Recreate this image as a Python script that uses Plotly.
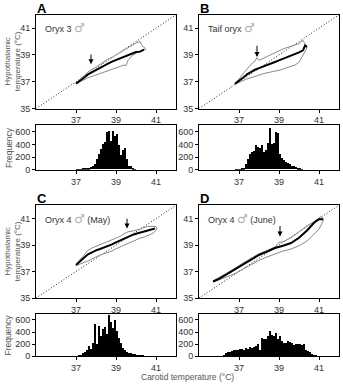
import plotly.graph_objects as go

# ---------------- data ----------------
# Panel A (Oryx 3)
a_x_mean = [37.0, 37.2, 37.4, 37.6, 37.8, 38.0, 38.2, 38.4, 38.6, 38.8, 39.0, 39.2, 39.4, 39.6, 39.8, 40.0, 40.2, 40.4]
a_y_mean = [36.85, 37.05, 37.3, 37.55, 37.72, 37.85, 38.0, 38.2, 38.35, 38.5, 38.62, 38.75, 38.88, 39.0, 39.12, 39.22, 39.25, 39.4]
a_x_up = [37.0, 37.2, 37.4, 37.6, 37.8, 38.0, 38.2, 38.4, 38.6, 38.8, 39.0, 39.2, 39.4, 39.6, 39.8, 40.0, 40.2, 40.3, 40.5]
a_y_up = [36.9, 37.15, 37.45, 37.75, 37.9, 38.1, 38.3, 38.5, 38.7, 38.82, 39.0, 39.15, 39.35, 39.55, 39.75, 39.9, 40.0, 39.7, 39.45]
a_x_lo = [37.0, 37.2, 37.4, 37.6, 37.8, 38.0, 38.2, 38.4, 38.6, 38.8, 39.0, 39.2, 39.4, 39.5, 39.6, 39.8, 40.0, 40.2, 40.5]
a_y_lo = [36.85, 37.0, 37.2, 37.3, 37.4, 37.5, 37.62, 37.7, 37.8, 37.9, 38.0, 38.1, 38.25, 38.2, 38.6, 38.95, 39.1, 39.3, 39.45]
a_hist_x = [37.05, 37.15, 37.25, 37.35, 37.45, 37.55, 37.65, 37.75, 37.85, 37.95, 38.05, 38.15, 38.25, 38.35,
            38.45, 38.55, 38.65, 38.75, 38.85, 38.95, 39.05, 39.15, 39.25, 39.35, 39.45, 39.55, 39.65, 39.75, 39.85, 39.95]
a_hist_y = [2, 3, 5, 10, 15, 20, 25, 35, 50, 90, 160, 240, 320, 400,
            440, 590, 600, 450, 600, 520, 560, 380, 220, 300, 340, 160, 60, 50, 15, 5]

# Panel B (Taif oryx)
b_x_mean = [36.8, 37.0, 37.2, 37.4, 37.6, 37.8, 38.0, 38.2, 38.4, 38.6, 38.8, 39.0, 39.2, 39.4, 39.6, 39.8, 40.0, 40.2, 40.3, 40.4]
b_y_mean = [36.85, 37.05, 37.3, 37.55, 37.75, 37.9, 38.02, 38.15, 38.28, 38.38, 38.48, 38.6, 38.72, 38.82, 38.92, 39.05, 39.2, 39.35, 39.7, 39.6]
b_x_up = [36.8, 37.0, 37.2, 37.4, 37.6, 37.8, 37.9, 38.0, 38.2, 38.4, 38.6, 38.8, 39.0, 39.2, 39.4, 39.6, 39.8, 40.0, 40.2, 40.3, 40.4]
b_y_up = [36.9, 37.2, 37.6, 37.95, 38.3, 38.55, 38.8, 38.6, 38.75, 38.9, 39.05, 39.2, 39.35, 39.45, 39.55, 39.65, 39.75, 39.85, 40.1, 39.8, 39.55]
b_x_lo = [36.8, 37.0, 37.2, 37.4, 37.6, 37.8, 38.0, 38.2, 38.4, 38.6, 38.8, 39.0, 39.2, 39.4, 39.6, 39.8, 40.0, 40.2, 40.4]
b_y_lo = [36.8, 36.95, 37.1, 37.22, 37.3, 37.38, 37.5, 37.6, 37.68, 37.72, 37.8, 37.85, 37.95, 38.0, 38.1, 38.25, 38.45, 39.0, 39.55]
b_hist_x = [36.85, 36.95, 37.05, 37.15, 37.25, 37.35, 37.45, 37.55, 37.65, 37.75, 37.85, 37.95, 38.05, 38.15, 38.25, 38.35, 38.45,
            38.55, 38.65, 38.75, 38.85, 38.95, 39.05, 39.15, 39.25, 39.35, 39.45, 39.55, 39.65, 39.75, 39.85, 39.95, 40.05, 40.15]
b_hist_y = [2, 3, 5, 10, 30, 80, 160, 250, 270, 290, 380, 360, 330, 380, 270, 300, 420,
            650, 400, 420, 590, 580, 250, 180, 150, 120, 100, 80, 60, 50, 35, 25, 15, 5]

# Panel C (Oryx 4, May)
c_x_mean = [37.0, 37.2, 37.4, 37.6, 37.8, 38.0, 38.2, 38.4, 38.6, 38.8, 39.0, 39.2, 39.4, 39.6, 39.8, 40.0, 40.2, 40.4, 40.6, 40.8, 40.95]
c_y_mean = [37.5, 37.8, 38.05, 38.3, 38.48, 38.6, 38.7, 38.8, 38.9, 39.05, 39.2, 39.35, 39.5, 39.65, 39.75, 39.85, 39.93, 40.02, 40.1, 40.18, 40.25]
c_x_up = [37.0, 37.2, 37.4, 37.6, 37.8, 38.0, 38.2, 38.4, 38.6, 38.8, 39.0, 39.2, 39.4, 39.6, 39.8, 40.0, 40.2, 40.4, 40.6, 40.8, 41.0, 41.05]
c_y_up = [37.55, 37.9, 38.3, 38.6, 38.78, 38.9, 39.05, 39.2, 39.3, 39.4, 39.5, 39.65, 39.85, 40.0, 40.05, 40.12, 40.2, 40.32, 40.4, 40.42, 40.4, 40.25]
c_x_lo = [37.0, 37.2, 37.4, 37.6, 37.8, 38.0, 38.2, 38.4, 38.6, 38.8, 39.0, 39.2, 39.4, 39.6, 39.8, 40.0, 40.2, 40.4, 40.6, 40.8, 41.0, 41.05]
c_y_lo = [37.45, 37.55, 37.68, 37.8, 37.95, 38.12, 38.25, 38.35, 38.45, 38.55, 38.72, 38.85, 39.0, 39.15, 39.3, 39.42, 39.52, 39.6, 39.7, 39.85, 40.1, 40.25]
c_hist_x = [37.05, 37.15, 37.25, 37.35, 37.45, 37.55, 37.65, 37.75, 37.85, 37.95, 38.05, 38.15, 38.25, 38.35, 38.45, 38.55, 38.65, 38.75,
            38.85, 38.95, 39.05, 39.15, 39.25, 39.35, 39.45, 39.55, 39.65, 39.75, 39.85, 39.95, 40.05, 40.15, 40.25, 40.35, 40.45]
c_hist_y = [5, 10, 25, 50, 70, 100, 170, 120, 230, 540, 200, 500, 330, 460, 480, 370, 680, 560,
            470, 600, 420, 300, 230, 140, 100, 70, 60, 50, 45, 40, 30, 20, 15, 8, 3]

# Panel D (Oryx 4, June)
d_x_mean = [35.7, 36.0, 36.4, 36.8, 37.2, 37.6, 38.0, 38.4, 38.8, 39.2, 39.6, 40.0, 40.4, 40.8, 41.0, 41.2]
d_y_mean = [36.25, 36.45, 36.8, 37.15, 37.55, 37.9, 38.25, 38.5, 38.78, 38.95, 39.15, 39.55, 40.1, 40.75, 40.95, 40.95]
d_x_up = [35.7, 36.0, 36.4, 36.8, 37.2, 37.6, 38.0, 38.4, 38.8, 39.0, 39.2, 39.6, 40.0, 40.4, 40.8, 41.1, 41.25]
d_y_up = [36.3, 36.55, 36.9, 37.25, 37.65, 38.0, 38.35, 38.6, 38.85, 39.2, 39.25, 39.55, 40.0, 40.45, 40.8, 41.15, 40.95]
d_x_lo = [35.7, 36.0, 36.4, 36.8, 37.2, 37.6, 38.0, 38.4, 38.8, 39.2, 39.6, 40.0, 40.4, 40.8, 41.0, 41.25]
d_y_lo = [36.2, 36.35, 36.6, 36.85, 37.2, 37.5, 37.85, 38.1, 38.35, 38.55, 38.7, 38.95, 39.3, 39.85, 40.2, 40.95]
d_hist_x = [36.25, 36.35, 36.45, 36.55, 36.65, 36.75, 36.85, 36.95, 37.05, 37.15, 37.25, 37.35, 37.45, 37.55, 37.65, 37.75,
            37.85, 37.95, 38.05, 38.15, 38.25, 38.35, 38.45, 38.55, 38.65, 38.75, 38.85, 38.95, 39.05, 39.15, 39.25, 39.35,
            39.45, 39.55, 39.65, 39.75, 39.85, 39.95, 40.05, 40.15, 40.25, 40.35, 40.45, 40.55, 40.65, 40.75, 40.85]
d_hist_y = [10, 50, 70, 80, 90, 100, 110, 100, 130, 120, 110, 140, 130, 150, 140, 160,
            170, 210, 110, 300, 290, 280, 340, 420, 350, 340, 380, 290, 330, 250, 220, 230,
            260, 240, 220, 190, 210, 200, 210, 190, 200, 110, 90, 80, 40, 20, 8]

identity = [35, 42]
panel_letters = ["A", "B", "C", "D"]
panel_names = ["Oryx 3", "Taif oryx", "Oryx 4", "Oryx 4"]
panel_suffix = ["", "", " (May)", " (June)"]
arrow_x = [37.75, 37.9, 39.55, 39.05]
arrow_tip = [38.3, 38.85, 40.25, 39.65]
arrow_top = [39.15, 39.8, 41.1, 40.55]
sc_ticks = [35, 37, 39, 41]
x_ticks = [37, 39, 41]
h_ticks = [0, 200, 400, 600]

# ---------------- layout geometry ----------------
W, H = 343, 385
col_x = [(36, 176), (199, 339)]
rows = [((15, 110), (127, 172)), ((208, 302), (318, 361))]

def xd(a, b):
    return [a / W, b / W]

def yd(top, bot):
    return [1 - bot / H, 1 - top / H]

fig = go.Figure()
FONT = "Liberation Sans, Arial, sans-serif"
TICKC = "#333333"

panels = [
    (a_x_mean, a_y_mean, a_x_up, a_y_up, a_x_lo, a_y_lo, a_hist_x, a_hist_y),
    (b_x_mean, b_y_mean, b_x_up, b_y_up, b_x_lo, b_y_lo, b_hist_x, b_hist_y),
    (c_x_mean, c_y_mean, c_x_up, c_y_up, c_x_lo, c_y_lo, c_hist_x, c_hist_y),
    (d_x_mean, d_y_mean, d_x_up, d_y_up, d_x_lo, d_y_lo, d_hist_x, d_hist_y),
]

layout = {}
annotations = []
axis_common = dict(showline=True, linecolor="black", linewidth=1, mirror=True,
                   ticks="outside", ticklen=3, tickwidth=1, tickcolor="black",
                   showgrid=False, zeroline=False,
                   tickfont=dict(family=FONT, size=9, color=TICKC))

for i, p in enumerate(panels):
    r, c = divmod(i, 2)
    sx, sy = 2 * i + 1, 2 * i + 1
    hx, hy = 2 * i + 2, 2 * i + 2
    sxn = "x" if sx == 1 else f"x{sx}"
    syn = "y" if sy == 1 else f"y{sy}"
    hxn, hyn = f"x{hx}", f"y{hy}"
    (sc_top, sc_bot), (h_top, h_bot) = rows[r]
    x0, x1 = col_x[c]
    mx, my, ux, uy, lx, ly, hxv, hyv = p

    fig.add_trace(go.Scatter(x=identity, y=identity, mode="lines", xaxis=sxn, yaxis=syn,
                             line=dict(color="#222222", width=1, dash="1px,2px"), showlegend=False))
    fig.add_trace(go.Scatter(x=ux, y=uy, mode="lines", xaxis=sxn, yaxis=syn,
                             line=dict(color="#8a8a8a", width=1), showlegend=False))
    fig.add_trace(go.Scatter(x=lx, y=ly, mode="lines", xaxis=sxn, yaxis=syn,
                             line=dict(color="#8a8a8a", width=1), showlegend=False))
    fig.add_trace(go.Scatter(x=mx, y=my, mode="lines", xaxis=sxn, yaxis=syn,
                             line=dict(color="black", width=2), showlegend=False))
    fig.add_trace(go.Bar(x=hxv, y=hyv, width=0.1, xaxis=hxn, yaxis=hyn,
                         marker=dict(color="black", line=dict(width=0)), showlegend=False))

    layout["xaxis" if sx == 1 else f"xaxis{sx}"] = dict(axis_common, domain=xd(x0, x1), range=[35, 42],
                                                       tickvals=x_ticks, anchor=syn)
    layout["yaxis" if sy == 1 else f"yaxis{sy}"] = dict(axis_common, domain=yd(sc_top, sc_bot), range=[35, 42],
                                                       tickvals=sc_ticks, anchor=sxn)
    layout[f"xaxis{hx}"] = dict(axis_common, domain=xd(x0, x1), range=[35, 42], tickvals=x_ticks, anchor=hyn)
    layout[f"yaxis{hy}"] = dict(axis_common, domain=yd(h_top, h_bot), range=[0, 700], tickvals=h_ticks, anchor=hxn)

    # arrow
    annotations.append(dict(x=arrow_x[i], y=arrow_tip[i], ax=arrow_x[i], ay=arrow_top[i],
                            xref=sxn, yref=syn, axref=sxn, ayref=syn, showarrow=True,
                            arrowhead=2, arrowsize=1, arrowwidth=1, arrowcolor="black", text=""))
    # panel letter
    annotations.append(dict(x=(x0 - 1) / W, y=1 - (sc_top - 6.5) / H, xref="paper", yref="paper",
                            text=f"<b>{panel_letters[i]}</b>", showarrow=False, xanchor="left", yanchor="middle",
                            font=dict(family=FONT, size=13, color="black")))
    # panel name
    annotations.append(dict(x=(x0 + 7) / W, y=1 - (sc_top + 13.5) / H, xref="paper", yref="paper",
                            text=(f"{panel_names[i]} <span style='color:#b0b0b0;font-size:12px;"
                                  f"font-family:DejaVu Sans'>♂</span>{panel_suffix[i]}"),
                            showarrow=False, xanchor="left", yanchor="middle",
                            font=dict(family=FONT, size=9, color="#333333")))

for r in range(2):
    (sc_top, sc_bot), (h_top, h_bot) = rows[r]
    annotations.append(dict(x=12.5 / W, y=1 - (sc_top + sc_bot) / 2 / H, xref="paper", yref="paper",
                            text="Hypothalamic<br>temperature (°C)", textangle=-90, showarrow=False,
                            xanchor="center", yanchor="middle",
                            font=dict(family=FONT, size=8, color="#555555")))
    annotations.append(dict(x=8.5 / W, y=1 - (h_top + h_bot) / 2 / H, xref="paper", yref="paper",
                            text="Frequency", textangle=-90, showarrow=False,
                            xanchor="center", yanchor="middle",
                            font=dict(family=FONT, size=8.5, color="#555555")))

annotations.append(dict(x=188 / W, y=1 - 381.5 / H, xref="paper", yref="paper",
                        text="Carotid temperature (°C)", showarrow=False,
                        xanchor="center", yanchor="middle",
                        font=dict(family=FONT, size=8.5, color="#555555")))

fig.update_layout(width=W, height=H, margin=dict(l=0, r=0, t=0, b=0),
                  paper_bgcolor="white", plot_bgcolor="white", bargap=0,
                  annotations=annotations, **layout)

fig.write_html("out.html")
